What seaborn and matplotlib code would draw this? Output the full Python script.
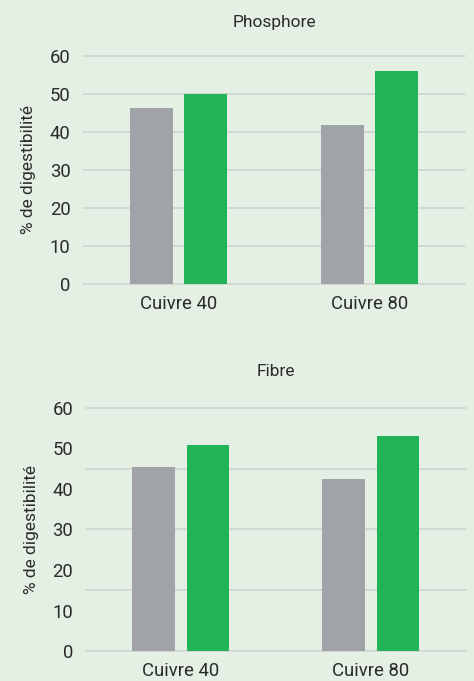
import pandas as pd
import matplotlib
matplotlib.use("Agg")
import matplotlib.pyplot as plt
import seaborn as sns

# values
categories = ["Cuivre 40", "Cuivre 80"]
series = ["Témoin", "Essai"]
phosphore_temoin = [46.4, 41.7]
phosphore_essai = [49.9, 56.0]
fibre_temoin = [45.5, 42.5]
fibre_essai = [50.8, 53.0]
y_ticks = [0, 10, 20, 30, 40, 50, 60]

bg = "#e3f0e3"
palette = {"Témoin": "#a0a4a8", "Essai": "#22b357"}
text_col = "#2b2b2b"

sns.set_theme(style="white")
plt.rcParams["font.family"] = ["Roboto", "DejaVu Sans"]


def make_df(temoin, essai):
    return pd.DataFrame({
        "Cat": categories * 2,
        "Serie": [series[0]] * 2 + [series[1]] * 2,
        "Val": temoin + essai,
    })


fig = plt.figure(figsize=(4.74, 6.81), dpi=100, facecolor=bg)

panels = [
    ("Phosphore", make_df(phosphore_temoin, phosphore_essai),
     [0.175, 0.583, 0.806, 0.335], [0, 10, 20, 30, 40, 50, 60], 21),
    ("Fibre", make_df(fibre_temoin, fibre_essai),
     [0.181, 0.044, 0.802, 0.357], [0, 15, 30, 45, 60], 23),
]

for title, df, pos, grid_at, tpad in panels:
    ax = fig.add_axes(pos)
    ax.set_facecolor(bg)
    # the reference draws its grid lines on their own steps
    for g in grid_at:
        ax.axhline(g, color="#d2d4d2", linewidth=1.2, zorder=0, clip_on=False)
    sns.barplot(data=df, x="Cat", y="Val", hue="Serie", palette=palette,
                width=0.57, gap=0.21, saturation=1, legend=False, ax=ax,
                linewidth=0, edgecolor="none", zorder=3)
    ax.set_ylim(0, 60)
    ax.set_xlim(-0.5, 1.5)
    ax.set_yticks(y_ticks)
    ax.grid(False)
    ax.tick_params(axis="both", length=0, labelsize=13.3, colors=text_col)
    ax.tick_params(axis="y", pad=9)
    ax.tick_params(axis="x", pad=8)
    for s in ax.spines.values():
        s.set_visible(False)
    ax.set_xlabel("")
    ax.set_ylabel("% de digestibilité", fontsize=12.5, color=text_col,
                  labelpad=10)
    ax.set_title(title, fontsize=12.5, color=text_col, pad=tpad)

fig.savefig("out.png", dpi=100, facecolor=bg)
